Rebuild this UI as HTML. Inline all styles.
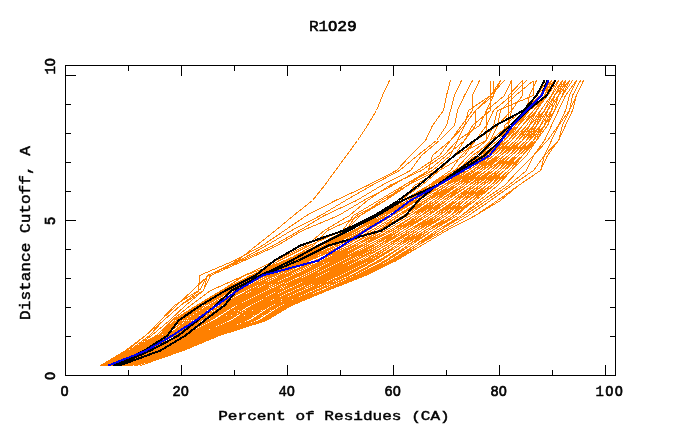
<!DOCTYPE html>
<html><head><meta charset="utf-8"><style>
html,body{margin:0;padding:0;background:#fff}
body{width:680px;height:440px;position:relative;overflow:hidden;font-family:"Liberation Mono",monospace;font-weight:bold;color:#000}
.t{position:absolute;text-align:center;white-space:pre}
.t span{display:inline-block;line-height:1;vertical-align:baseline}
svg .sd{font-family:"Liberation Sans",sans-serif;font-size:13.8px;letter-spacing:0.7px;stroke-width:0.7px}
svg text{font-family:"Liberation Mono",monospace;font-weight:normal;fill:#000;stroke:#000;stroke-width:0.45px}
</style></head><body>
<svg width="680" height="440" viewBox="0 0 680 440" style="position:absolute;left:0;top:0" shape-rendering="crispEdges">
<g><polyline points="100.5,365.5 129.5,350.5 156.5,335.5 172.5,320.5 196.5,305.5 221.5,290.5 250.5,275.5 284.5,260.5 320.5,245.5 349.5,230.5 378.5,215.5 403.5,200.5 428.5,185.5 454.5,170.5 482.5,155.5 500.5,140.5 515.5,125.5 526.5,110.5 536.5,95.5 547.5,80.5" stroke="#ff8000" stroke-width="1" fill="none"/><polyline points="100.5,365.5 131.5,350.5 158.5,335.5 174.5,320.5 198.5,305.5 223.5,290.5 250.5,275.5 286.5,260.5 320.5,245.5 349.5,230.5 374.5,215.5 403.5,200.5 428.5,185.5 457.5,170.5 486.5,155.5 500.5,140.5 515.5,125.5 526.5,110.5 536.5,95.5 547.5,80.5" stroke="#ff8000" stroke-width="1" fill="none"/><polyline points="104.5,365.5 133.5,350.5 158.5,335.5 176.5,320.5 196.5,305.5 225.5,290.5 253.5,275.5 288.5,260.5 324.5,245.5 356.5,230.5 374.5,215.5 403.5,200.5 428.5,185.5 457.5,170.5 479.5,155.5 497.5,140.5 511.5,125.5 526.5,110.5 536.5,95.5 551.5,80.5" stroke="#ff8000" stroke-width="1" fill="none"/><polyline points="102.5,365.5 133.5,350.5 160.5,335.5 178.5,320.5 199.5,305.5 225.5,290.5 255.5,275.5 288.5,260.5 324.5,245.5 356.5,230.5 381.5,215.5 407.5,200.5 432.5,185.5 461.5,170.5 482.5,155.5 500.5,140.5 518.5,125.5 526.5,110.5 540.5,95.5 551.5,80.5" stroke="#ff8000" stroke-width="1" fill="none"/><polyline points="102.5,365.5 133.5,350.5 160.5,335.5 178.5,320.5 201.5,305.5 226.5,290.5 257.5,275.5 291.5,260.5 324.5,245.5 356.5,230.5 381.5,215.5 407.5,200.5 432.5,185.5 457.5,170.5 482.5,155.5 500.5,140.5 511.5,125.5 526.5,110.5 536.5,95.5 547.5,80.5" stroke="#ff8000" stroke-width="1" fill="none"/><polyline points="104.5,365.5 134.5,350.5 163.5,335.5 180.5,320.5 203.5,305.5 228.5,290.5 259.5,275.5 289.5,260.5 327.5,245.5 360.5,230.5 385.5,215.5 407.5,200.5 432.5,185.5 461.5,170.5 486.5,155.5 504.5,140.5 515.5,125.5 529.5,110.5 540.5,95.5 554.5,80.5" stroke="#ff8000" stroke-width="1" fill="none"/><polyline points="104.5,365.5 134.5,350.5 163.5,335.5 181.5,320.5 203.5,305.5 230.5,290.5 261.5,275.5 293.5,260.5 327.5,245.5 360.5,230.5 385.5,215.5 410.5,200.5 436.5,185.5 461.5,170.5 486.5,155.5 504.5,140.5 515.5,125.5 529.5,110.5 540.5,95.5 551.5,80.5" stroke="#ff8000" stroke-width="1" fill="none"/><polyline points="106.5,365.5 136.5,350.5 163.5,335.5 181.5,320.5 205.5,305.5 232.5,290.5 264.5,275.5 297.5,260.5 331.5,245.5 356.5,230.5 385.5,215.5 410.5,200.5 432.5,185.5 461.5,170.5 482.5,155.5 508.5,140.5 518.5,125.5 529.5,110.5 540.5,95.5 547.5,80.5" stroke="#ff8000" stroke-width="1" fill="none"/><polyline points="104.5,365.5 134.5,350.5 165.5,335.5 183.5,320.5 205.5,305.5 230.5,290.5 262.5,275.5 295.5,260.5 331.5,245.5 356.5,230.5 381.5,215.5 410.5,200.5 432.5,185.5 461.5,170.5 486.5,155.5 500.5,140.5 515.5,125.5 522.5,110.5 540.5,95.5 547.5,80.5" stroke="#ff8000" stroke-width="1" fill="none"/><polyline points="104.5,365.5 136.5,350.5 163.5,335.5 185.5,320.5 208.5,305.5 235.5,290.5 266.5,275.5 299.5,260.5 331.5,245.5 360.5,230.5 385.5,215.5 410.5,200.5 432.5,185.5 457.5,170.5 486.5,155.5 504.5,140.5 515.5,125.5 529.5,110.5 540.5,95.5 551.5,80.5" stroke="#ff8000" stroke-width="1" fill="none"/><polyline points="104.5,365.5 136.5,350.5 167.5,335.5 187.5,320.5 208.5,305.5 235.5,290.5 264.5,275.5 300.5,260.5 335.5,245.5 363.5,230.5 385.5,215.5 414.5,200.5 439.5,185.5 464.5,170.5 482.5,155.5 504.5,140.5 518.5,125.5 529.5,110.5 540.5,95.5 551.5,80.5" stroke="#ff8000" stroke-width="1" fill="none"/><polyline points="104.5,365.5 138.5,350.5 167.5,335.5 189.5,320.5 208.5,305.5 235.5,290.5 266.5,275.5 300.5,260.5 335.5,245.5 363.5,230.5 389.5,215.5 414.5,200.5 439.5,185.5 464.5,170.5 486.5,155.5 500.5,140.5 515.5,125.5 529.5,110.5 544.5,95.5 551.5,80.5" stroke="#ff8000" stroke-width="1" fill="none"/><polyline points="107.5,365.5 140.5,350.5 167.5,335.5 189.5,320.5 212.5,305.5 239.5,290.5 268.5,275.5 302.5,260.5 335.5,245.5 363.5,230.5 392.5,215.5 414.5,200.5 439.5,185.5 464.5,170.5 490.5,155.5 504.5,140.5 515.5,125.5 529.5,110.5 544.5,95.5 554.5,80.5" stroke="#ff8000" stroke-width="1" fill="none"/><polyline points="106.5,365.5 138.5,350.5 167.5,335.5 189.5,320.5 210.5,305.5 239.5,290.5 270.5,275.5 302.5,260.5 338.5,245.5 363.5,230.5 392.5,215.5 417.5,200.5 439.5,185.5 461.5,170.5 486.5,155.5 504.5,140.5 518.5,125.5 529.5,110.5 544.5,95.5 551.5,80.5" stroke="#ff8000" stroke-width="1" fill="none"/><polyline points="107.5,365.5 142.5,350.5 171.5,335.5 190.5,320.5 214.5,305.5 241.5,290.5 273.5,275.5 304.5,260.5 338.5,245.5 367.5,230.5 392.5,215.5 414.5,200.5 443.5,185.5 464.5,170.5 490.5,155.5 508.5,140.5 518.5,125.5 529.5,110.5 544.5,95.5 551.5,80.5" stroke="#ff8000" stroke-width="1" fill="none"/><polyline points="106.5,365.5 140.5,350.5 169.5,335.5 190.5,320.5 214.5,305.5 243.5,290.5 273.5,275.5 306.5,260.5 338.5,245.5 367.5,230.5 392.5,215.5 414.5,200.5 443.5,185.5 464.5,170.5 490.5,155.5 508.5,140.5 518.5,125.5 533.5,110.5 544.5,95.5 554.5,80.5" stroke="#ff8000" stroke-width="1" fill="none"/><polyline points="106.5,365.5 142.5,350.5 171.5,335.5 192.5,320.5 216.5,305.5 244.5,290.5 275.5,275.5 308.5,260.5 342.5,245.5 367.5,230.5 392.5,215.5 417.5,200.5 443.5,185.5 468.5,170.5 490.5,155.5 508.5,140.5 522.5,125.5 533.5,110.5 544.5,95.5 551.5,80.5" stroke="#ff8000" stroke-width="1" fill="none"/><polyline points="107.5,365.5 142.5,350.5 171.5,335.5 194.5,320.5 217.5,305.5 244.5,290.5 279.5,275.5 309.5,260.5 342.5,245.5 371.5,230.5 396.5,215.5 421.5,200.5 446.5,185.5 464.5,170.5 490.5,155.5 508.5,140.5 522.5,125.5 533.5,110.5 544.5,95.5 554.5,80.5" stroke="#ff8000" stroke-width="1" fill="none"/><polyline points="107.5,365.5 143.5,350.5 172.5,335.5 198.5,320.5 219.5,305.5 248.5,290.5 279.5,275.5 309.5,260.5 342.5,245.5 371.5,230.5 396.5,215.5 421.5,200.5 446.5,185.5 472.5,170.5 490.5,155.5 508.5,140.5 518.5,125.5 533.5,110.5 544.5,95.5 554.5,80.5" stroke="#ff8000" stroke-width="1" fill="none"/><polyline points="107.5,365.5 143.5,350.5 174.5,335.5 196.5,320.5 221.5,305.5 248.5,290.5 279.5,275.5 309.5,260.5 345.5,245.5 371.5,230.5 396.5,215.5 425.5,200.5 446.5,185.5 475.5,170.5 493.5,155.5 508.5,140.5 522.5,125.5 536.5,110.5 544.5,95.5 554.5,80.5" stroke="#ff8000" stroke-width="1" fill="none"/><polyline points="107.5,365.5 145.5,350.5 174.5,335.5 199.5,320.5 223.5,305.5 250.5,290.5 282.5,275.5 315.5,260.5 349.5,245.5 374.5,230.5 399.5,215.5 425.5,200.5 446.5,185.5 468.5,170.5 490.5,155.5 508.5,140.5 522.5,125.5 533.5,110.5 547.5,95.5 554.5,80.5" stroke="#ff8000" stroke-width="1" fill="none"/><polyline points="107.5,365.5 145.5,350.5 174.5,335.5 199.5,320.5 225.5,305.5 250.5,290.5 282.5,275.5 315.5,260.5 349.5,245.5 378.5,230.5 399.5,215.5 425.5,200.5 446.5,185.5 472.5,170.5 493.5,155.5 508.5,140.5 522.5,125.5 533.5,110.5 544.5,95.5 551.5,80.5" stroke="#ff8000" stroke-width="1" fill="none"/><polyline points="107.5,365.5 145.5,350.5 174.5,335.5 201.5,320.5 225.5,305.5 253.5,290.5 286.5,275.5 317.5,260.5 349.5,245.5 374.5,230.5 399.5,215.5 421.5,200.5 446.5,185.5 472.5,170.5 490.5,155.5 508.5,140.5 522.5,125.5 533.5,110.5 547.5,95.5 554.5,80.5" stroke="#ff8000" stroke-width="1" fill="none"/><polyline points="109.5,365.5 147.5,350.5 178.5,335.5 201.5,320.5 225.5,305.5 253.5,290.5 284.5,275.5 317.5,260.5 349.5,245.5 374.5,230.5 399.5,215.5 425.5,200.5 450.5,185.5 472.5,170.5 493.5,155.5 508.5,140.5 522.5,125.5 536.5,110.5 547.5,95.5 554.5,80.5" stroke="#ff8000" stroke-width="1" fill="none"/><polyline points="109.5,365.5 147.5,350.5 174.5,335.5 205.5,320.5 226.5,305.5 255.5,290.5 286.5,275.5 317.5,260.5 349.5,245.5 378.5,230.5 403.5,215.5 425.5,200.5 450.5,185.5 472.5,170.5 493.5,155.5 511.5,140.5 526.5,125.5 536.5,110.5 547.5,95.5 554.5,80.5" stroke="#ff8000" stroke-width="1" fill="none"/><polyline points="111.5,365.5 149.5,350.5 180.5,335.5 205.5,320.5 228.5,305.5 257.5,290.5 286.5,275.5 318.5,260.5 353.5,245.5 381.5,230.5 407.5,215.5 428.5,200.5 454.5,185.5 475.5,170.5 497.5,155.5 511.5,140.5 526.5,125.5 536.5,110.5 544.5,95.5 554.5,80.5" stroke="#ff8000" stroke-width="1" fill="none"/><polyline points="111.5,365.5 151.5,350.5 178.5,335.5 205.5,320.5 228.5,305.5 257.5,290.5 289.5,275.5 322.5,260.5 353.5,245.5 381.5,230.5 403.5,215.5 425.5,200.5 454.5,185.5 475.5,170.5 500.5,155.5 515.5,140.5 526.5,125.5 536.5,110.5 547.5,95.5 554.5,80.5" stroke="#ff8000" stroke-width="1" fill="none"/><polyline points="111.5,365.5 151.5,350.5 178.5,335.5 207.5,320.5 230.5,305.5 259.5,290.5 293.5,275.5 324.5,260.5 353.5,245.5 381.5,230.5 403.5,215.5 428.5,200.5 450.5,185.5 475.5,170.5 497.5,155.5 511.5,140.5 522.5,125.5 536.5,110.5 544.5,95.5 554.5,80.5" stroke="#ff8000" stroke-width="1" fill="none"/><polyline points="109.5,365.5 151.5,350.5 178.5,335.5 207.5,320.5 232.5,305.5 261.5,290.5 293.5,275.5 326.5,260.5 356.5,245.5 381.5,230.5 407.5,215.5 428.5,200.5 454.5,185.5 479.5,170.5 497.5,155.5 511.5,140.5 522.5,125.5 533.5,110.5 547.5,95.5 558.5,80.5" stroke="#ff8000" stroke-width="1" fill="none"/><polyline points="113.5,365.5 151.5,350.5 181.5,335.5 210.5,320.5 234.5,305.5 264.5,290.5 295.5,275.5 326.5,260.5 356.5,245.5 385.5,230.5 410.5,215.5 432.5,200.5 454.5,185.5 475.5,170.5 497.5,155.5 515.5,140.5 526.5,125.5 536.5,110.5 547.5,95.5 554.5,80.5" stroke="#ff8000" stroke-width="1" fill="none"/><polyline points="113.5,365.5 153.5,350.5 181.5,335.5 208.5,320.5 234.5,305.5 264.5,290.5 295.5,275.5 329.5,260.5 356.5,245.5 385.5,230.5 410.5,215.5 432.5,200.5 454.5,185.5 475.5,170.5 497.5,155.5 515.5,140.5 526.5,125.5 536.5,110.5 547.5,95.5 558.5,80.5" stroke="#ff8000" stroke-width="1" fill="none"/><polyline points="111.5,365.5 153.5,350.5 181.5,335.5 210.5,320.5 234.5,305.5 264.5,290.5 297.5,275.5 329.5,260.5 360.5,245.5 385.5,230.5 410.5,215.5 432.5,200.5 454.5,185.5 479.5,170.5 497.5,155.5 515.5,140.5 526.5,125.5 536.5,110.5 547.5,95.5 554.5,80.5" stroke="#ff8000" stroke-width="1" fill="none"/><polyline points="115.5,365.5 154.5,350.5 183.5,335.5 214.5,320.5 237.5,305.5 268.5,290.5 299.5,275.5 331.5,260.5 360.5,245.5 385.5,230.5 410.5,215.5 436.5,200.5 457.5,185.5 479.5,170.5 500.5,155.5 515.5,140.5 526.5,125.5 536.5,110.5 544.5,95.5 554.5,80.5" stroke="#ff8000" stroke-width="1" fill="none"/><polyline points="113.5,365.5 156.5,350.5 185.5,335.5 214.5,320.5 239.5,305.5 270.5,290.5 299.5,275.5 331.5,260.5 363.5,245.5 389.5,230.5 414.5,215.5 436.5,200.5 454.5,185.5 479.5,170.5 500.5,155.5 515.5,140.5 529.5,125.5 536.5,110.5 547.5,95.5 558.5,80.5" stroke="#ff8000" stroke-width="1" fill="none"/><polyline points="113.5,365.5 154.5,350.5 185.5,335.5 216.5,320.5 239.5,305.5 268.5,290.5 300.5,275.5 331.5,260.5 360.5,245.5 389.5,230.5 414.5,215.5 436.5,200.5 454.5,185.5 479.5,170.5 497.5,155.5 511.5,140.5 526.5,125.5 536.5,110.5 547.5,95.5 554.5,80.5" stroke="#ff8000" stroke-width="1" fill="none"/><polyline points="115.5,365.5 154.5,350.5 187.5,335.5 217.5,320.5 239.5,305.5 271.5,290.5 304.5,275.5 333.5,260.5 363.5,245.5 389.5,230.5 414.5,215.5 432.5,200.5 457.5,185.5 482.5,170.5 500.5,155.5 518.5,140.5 529.5,125.5 544.5,110.5 551.5,95.5 562.5,80.5" stroke="#ff8000" stroke-width="1" fill="none"/><polyline points="113.5,365.5 154.5,350.5 187.5,335.5 217.5,320.5 241.5,305.5 271.5,290.5 304.5,275.5 335.5,260.5 363.5,245.5 392.5,230.5 414.5,215.5 439.5,200.5 461.5,185.5 479.5,170.5 500.5,155.5 518.5,140.5 529.5,125.5 540.5,110.5 551.5,95.5 558.5,80.5" stroke="#ff8000" stroke-width="1" fill="none"/><polyline points="115.5,365.5 156.5,350.5 189.5,335.5 221.5,320.5 244.5,305.5 275.5,290.5 304.5,275.5 336.5,260.5 363.5,245.5 392.5,230.5 421.5,215.5 439.5,200.5 461.5,185.5 482.5,170.5 500.5,155.5 518.5,140.5 529.5,125.5 544.5,110.5 551.5,95.5 558.5,80.5" stroke="#ff8000" stroke-width="1" fill="none"/><polyline points="115.5,365.5 158.5,350.5 189.5,335.5 219.5,320.5 243.5,305.5 273.5,290.5 308.5,275.5 338.5,260.5 367.5,245.5 396.5,230.5 417.5,215.5 439.5,200.5 461.5,185.5 482.5,170.5 500.5,155.5 518.5,140.5 529.5,125.5 540.5,110.5 551.5,95.5 558.5,80.5" stroke="#ff8000" stroke-width="1" fill="none"/><polyline points="116.5,365.5 160.5,350.5 190.5,335.5 223.5,320.5 244.5,305.5 277.5,290.5 311.5,275.5 340.5,260.5 371.5,245.5 396.5,230.5 417.5,215.5 439.5,200.5 464.5,185.5 482.5,170.5 504.5,155.5 518.5,140.5 529.5,125.5 540.5,110.5 551.5,95.5 562.5,80.5" stroke="#ff8000" stroke-width="1" fill="none"/><polyline points="115.5,365.5 160.5,350.5 190.5,335.5 225.5,320.5 246.5,305.5 277.5,290.5 309.5,275.5 340.5,260.5 367.5,245.5 396.5,230.5 421.5,215.5 443.5,200.5 464.5,185.5 486.5,170.5 500.5,155.5 522.5,140.5 533.5,125.5 544.5,110.5 551.5,95.5 562.5,80.5" stroke="#ff8000" stroke-width="1" fill="none"/><polyline points="116.5,365.5 160.5,350.5 190.5,335.5 225.5,320.5 248.5,305.5 280.5,290.5 313.5,275.5 344.5,260.5 371.5,245.5 399.5,230.5 421.5,215.5 443.5,200.5 464.5,185.5 486.5,170.5 508.5,155.5 522.5,140.5 533.5,125.5 540.5,110.5 551.5,95.5 558.5,80.5" stroke="#ff8000" stroke-width="1" fill="none"/><polyline points="116.5,365.5 162.5,350.5 192.5,335.5 225.5,320.5 248.5,305.5 280.5,290.5 313.5,275.5 344.5,260.5 371.5,245.5 399.5,230.5 421.5,215.5 443.5,200.5 468.5,185.5 490.5,170.5 504.5,155.5 522.5,140.5 529.5,125.5 540.5,110.5 551.5,95.5 558.5,80.5" stroke="#ff8000" stroke-width="1" fill="none"/><polyline points="116.5,365.5 162.5,350.5 192.5,335.5 226.5,320.5 252.5,305.5 282.5,290.5 315.5,275.5 344.5,260.5 374.5,245.5 399.5,230.5 421.5,215.5 446.5,200.5 468.5,185.5 490.5,170.5 504.5,155.5 518.5,140.5 533.5,125.5 540.5,110.5 551.5,95.5 562.5,80.5" stroke="#ff8000" stroke-width="1" fill="none"/><polyline points="116.5,365.5 162.5,350.5 194.5,335.5 228.5,320.5 252.5,305.5 282.5,290.5 315.5,275.5 347.5,260.5 374.5,245.5 399.5,230.5 425.5,215.5 446.5,200.5 468.5,185.5 490.5,170.5 508.5,155.5 526.5,140.5 533.5,125.5 540.5,110.5 551.5,95.5 562.5,80.5" stroke="#ff8000" stroke-width="1" fill="none"/><polyline points="118.5,365.5 165.5,350.5 196.5,335.5 232.5,320.5 253.5,305.5 286.5,290.5 317.5,275.5 347.5,260.5 378.5,245.5 399.5,230.5 425.5,215.5 446.5,200.5 468.5,185.5 490.5,170.5 508.5,155.5 526.5,140.5 533.5,125.5 544.5,110.5 554.5,95.5 562.5,80.5" stroke="#ff8000" stroke-width="1" fill="none"/><polyline points="118.5,365.5 163.5,350.5 196.5,335.5 234.5,320.5 257.5,305.5 288.5,290.5 318.5,275.5 351.5,260.5 378.5,245.5 399.5,230.5 425.5,215.5 446.5,200.5 468.5,185.5 490.5,170.5 508.5,155.5 522.5,140.5 533.5,125.5 544.5,110.5 554.5,95.5 565.5,80.5" stroke="#ff8000" stroke-width="1" fill="none"/><polyline points="118.5,365.5 163.5,350.5 196.5,335.5 232.5,320.5 255.5,305.5 288.5,290.5 322.5,275.5 351.5,260.5 378.5,245.5 403.5,230.5 425.5,215.5 446.5,200.5 468.5,185.5 486.5,170.5 500.5,155.5 522.5,140.5 536.5,125.5 540.5,110.5 551.5,95.5 562.5,80.5" stroke="#ff8000" stroke-width="1" fill="none"/><polyline points="120.5,365.5 165.5,350.5 196.5,335.5 232.5,320.5 257.5,305.5 289.5,290.5 324.5,275.5 354.5,260.5 381.5,245.5 403.5,230.5 428.5,215.5 446.5,200.5 468.5,185.5 493.5,170.5 511.5,155.5 526.5,140.5 533.5,125.5 544.5,110.5 551.5,95.5 562.5,80.5" stroke="#ff8000" stroke-width="1" fill="none"/><polyline points="118.5,365.5 165.5,350.5 198.5,335.5 235.5,320.5 259.5,305.5 291.5,290.5 326.5,275.5 354.5,260.5 381.5,245.5 403.5,230.5 428.5,215.5 450.5,200.5 472.5,185.5 493.5,170.5 508.5,155.5 522.5,140.5 536.5,125.5 547.5,110.5 554.5,95.5 565.5,80.5" stroke="#ff8000" stroke-width="1" fill="none"/><polyline points="120.5,365.5 167.5,350.5 199.5,335.5 237.5,320.5 262.5,305.5 295.5,290.5 327.5,275.5 356.5,260.5 381.5,245.5 407.5,230.5 432.5,215.5 454.5,200.5 475.5,185.5 493.5,170.5 508.5,155.5 526.5,140.5 536.5,125.5 544.5,110.5 554.5,95.5 565.5,80.5" stroke="#ff8000" stroke-width="1" fill="none"/><polyline points="120.5,365.5 167.5,350.5 199.5,335.5 237.5,320.5 261.5,305.5 295.5,290.5 329.5,275.5 356.5,260.5 385.5,245.5 410.5,230.5 432.5,215.5 457.5,200.5 475.5,185.5 493.5,170.5 511.5,155.5 526.5,140.5 536.5,125.5 544.5,110.5 554.5,95.5 562.5,80.5" stroke="#ff8000" stroke-width="1" fill="none"/><polyline points="120.5,365.5 169.5,350.5 201.5,335.5 239.5,320.5 262.5,305.5 297.5,290.5 329.5,275.5 360.5,260.5 385.5,245.5 410.5,230.5 436.5,215.5 454.5,200.5 472.5,185.5 490.5,170.5 508.5,155.5 526.5,140.5 536.5,125.5 547.5,110.5 554.5,95.5 562.5,80.5" stroke="#ff8000" stroke-width="1" fill="none"/><polyline points="122.5,365.5 171.5,350.5 201.5,335.5 239.5,320.5 264.5,305.5 297.5,290.5 329.5,275.5 360.5,260.5 385.5,245.5 414.5,230.5 436.5,215.5 457.5,200.5 475.5,185.5 493.5,170.5 511.5,155.5 529.5,140.5 540.5,125.5 551.5,110.5 554.5,95.5 565.5,80.5" stroke="#ff8000" stroke-width="1" fill="none"/><polyline points="120.5,365.5 169.5,350.5 203.5,335.5 241.5,320.5 264.5,305.5 300.5,290.5 331.5,275.5 360.5,260.5 385.5,245.5 410.5,230.5 432.5,215.5 454.5,200.5 475.5,185.5 493.5,170.5 508.5,155.5 526.5,140.5 536.5,125.5 547.5,110.5 558.5,95.5 565.5,80.5" stroke="#ff8000" stroke-width="1" fill="none"/><polyline points="120.5,365.5 171.5,350.5 203.5,335.5 241.5,320.5 266.5,305.5 300.5,290.5 333.5,275.5 363.5,260.5 389.5,245.5 410.5,230.5 436.5,215.5 454.5,200.5 472.5,185.5 493.5,170.5 511.5,155.5 529.5,140.5 540.5,125.5 547.5,110.5 554.5,95.5 565.5,80.5" stroke="#ff8000" stroke-width="1" fill="none"/><polyline points="122.5,365.5 171.5,350.5 205.5,335.5 243.5,320.5 266.5,305.5 300.5,290.5 335.5,275.5 363.5,260.5 389.5,245.5 414.5,230.5 436.5,215.5 457.5,200.5 479.5,185.5 497.5,170.5 511.5,155.5 526.5,140.5 540.5,125.5 547.5,110.5 554.5,95.5 565.5,80.5" stroke="#ff8000" stroke-width="1" fill="none"/><polyline points="122.5,365.5 171.5,350.5 205.5,335.5 244.5,320.5 268.5,305.5 304.5,290.5 336.5,275.5 365.5,260.5 389.5,245.5 414.5,230.5 439.5,215.5 457.5,200.5 475.5,185.5 497.5,170.5 515.5,155.5 529.5,140.5 540.5,125.5 547.5,110.5 554.5,95.5 565.5,80.5" stroke="#ff8000" stroke-width="1" fill="none"/><polyline points="122.5,365.5 172.5,350.5 207.5,335.5 246.5,320.5 270.5,305.5 304.5,290.5 336.5,275.5 367.5,260.5 392.5,245.5 417.5,230.5 439.5,215.5 461.5,200.5 479.5,185.5 500.5,170.5 515.5,155.5 529.5,140.5 536.5,125.5 547.5,110.5 558.5,95.5 565.5,80.5" stroke="#ff8000" stroke-width="1" fill="none"/><polyline points="124.5,365.5 172.5,350.5 207.5,335.5 246.5,320.5 270.5,305.5 306.5,290.5 338.5,275.5 369.5,260.5 392.5,245.5 417.5,230.5 443.5,215.5 461.5,200.5 482.5,185.5 500.5,170.5 515.5,155.5 533.5,140.5 540.5,125.5 551.5,110.5 558.5,95.5 565.5,80.5" stroke="#ff8000" stroke-width="1" fill="none"/><polyline points="124.5,365.5 174.5,350.5 208.5,335.5 250.5,320.5 273.5,305.5 308.5,290.5 342.5,275.5 371.5,260.5 396.5,245.5 421.5,230.5 443.5,215.5 461.5,200.5 482.5,185.5 500.5,170.5 518.5,155.5 533.5,140.5 540.5,125.5 551.5,110.5 558.5,95.5 562.5,80.5" stroke="#ff8000" stroke-width="1" fill="none"/><polyline points="122.5,365.5 174.5,350.5 208.5,335.5 250.5,320.5 273.5,305.5 309.5,290.5 342.5,275.5 371.5,260.5 396.5,245.5 417.5,230.5 443.5,215.5 461.5,200.5 482.5,185.5 500.5,170.5 515.5,155.5 533.5,140.5 540.5,125.5 547.5,110.5 558.5,95.5 565.5,80.5" stroke="#ff8000" stroke-width="1" fill="none"/><polyline points="124.5,365.5 174.5,350.5 208.5,335.5 252.5,320.5 275.5,305.5 309.5,290.5 342.5,275.5 372.5,260.5 396.5,245.5 421.5,230.5 443.5,215.5 464.5,200.5 482.5,185.5 500.5,170.5 515.5,155.5 529.5,140.5 544.5,125.5 547.5,110.5 554.5,95.5 569.5,80.5" stroke="#ff8000" stroke-width="1" fill="none"/><polyline points="124.5,365.5 178.5,350.5 210.5,335.5 250.5,320.5 277.5,305.5 311.5,290.5 345.5,275.5 374.5,260.5 396.5,245.5 421.5,230.5 446.5,215.5 464.5,200.5 482.5,185.5 504.5,170.5 518.5,155.5 533.5,140.5 540.5,125.5 551.5,110.5 558.5,95.5 569.5,80.5" stroke="#ff8000" stroke-width="1" fill="none"/><polyline points="125.5,365.5 178.5,350.5 210.5,335.5 253.5,320.5 277.5,305.5 311.5,290.5 344.5,275.5 374.5,260.5 399.5,245.5 421.5,230.5 446.5,215.5 464.5,200.5 486.5,185.5 504.5,170.5 515.5,155.5 533.5,140.5 540.5,125.5 551.5,110.5 558.5,95.5 569.5,80.5" stroke="#ff8000" stroke-width="1" fill="none"/><polyline points="125.5,365.5 176.5,350.5 210.5,335.5 255.5,320.5 279.5,305.5 315.5,290.5 347.5,275.5 374.5,260.5 399.5,245.5 425.5,230.5 450.5,215.5 464.5,200.5 486.5,185.5 500.5,170.5 515.5,155.5 533.5,140.5 544.5,125.5 554.5,110.5 562.5,95.5 565.5,80.5" stroke="#ff8000" stroke-width="1" fill="none"/><polyline points="125.5,365.5 178.5,350.5 212.5,335.5 255.5,320.5 279.5,305.5 317.5,290.5 351.5,275.5 380.5,260.5 403.5,245.5 428.5,230.5 450.5,215.5 468.5,200.5 486.5,185.5 504.5,170.5 518.5,155.5 536.5,140.5 544.5,125.5 551.5,110.5 558.5,95.5 565.5,80.5" stroke="#ff8000" stroke-width="1" fill="none"/><polyline points="125.5,365.5 180.5,350.5 212.5,335.5 259.5,320.5 282.5,305.5 318.5,290.5 351.5,275.5 378.5,260.5 403.5,245.5 425.5,230.5 450.5,215.5 472.5,200.5 486.5,185.5 504.5,170.5 518.5,155.5 536.5,140.5 544.5,125.5 551.5,110.5 558.5,95.5 569.5,80.5" stroke="#ff8000" stroke-width="1" fill="none"/><polyline points="125.5,365.5 180.5,350.5 214.5,335.5 259.5,320.5 282.5,305.5 318.5,290.5 353.5,275.5 380.5,260.5 403.5,245.5 425.5,230.5 450.5,215.5 468.5,200.5 490.5,185.5 504.5,170.5 522.5,155.5 536.5,140.5 540.5,125.5 551.5,110.5 558.5,95.5 569.5,80.5" stroke="#ff8000" stroke-width="1" fill="none"/><polyline points="125.5,365.5 180.5,350.5 214.5,335.5 259.5,320.5 284.5,305.5 318.5,290.5 353.5,275.5 381.5,260.5 403.5,245.5 425.5,230.5 450.5,215.5 468.5,200.5 490.5,185.5 508.5,170.5 522.5,155.5 533.5,140.5 544.5,125.5 551.5,110.5 558.5,95.5 565.5,80.5" stroke="#ff8000" stroke-width="1" fill="none"/><polyline points="127.5,365.5 183.5,350.5 216.5,335.5 261.5,320.5 284.5,305.5 322.5,290.5 356.5,275.5 385.5,260.5 407.5,245.5 428.5,230.5 454.5,215.5 472.5,200.5 490.5,185.5 504.5,170.5 522.5,155.5 536.5,140.5 547.5,125.5 554.5,110.5 558.5,95.5 569.5,80.5" stroke="#ff8000" stroke-width="1" fill="none"/><polyline points="127.5,365.5 180.5,350.5 216.5,335.5 262.5,320.5 286.5,305.5 322.5,290.5 356.5,275.5 385.5,260.5 407.5,245.5 428.5,230.5 454.5,215.5 472.5,200.5 490.5,185.5 508.5,170.5 522.5,155.5 536.5,140.5 544.5,125.5 551.5,110.5 558.5,95.5 569.5,80.5" stroke="#ff8000" stroke-width="1" fill="none"/><polyline points="127.5,365.5 183.5,350.5 217.5,335.5 264.5,320.5 288.5,305.5 324.5,290.5 358.5,275.5 387.5,260.5 410.5,245.5 432.5,230.5 454.5,215.5 475.5,200.5 493.5,185.5 511.5,170.5 526.5,155.5 536.5,140.5 547.5,125.5 551.5,110.5 558.5,95.5 569.5,80.5" stroke="#ff8000" stroke-width="1" fill="none"/><polyline points="127.5,365.5 183.5,350.5 217.5,335.5 262.5,320.5 288.5,305.5 327.5,290.5 362.5,275.5 387.5,260.5 407.5,245.5 432.5,230.5 454.5,215.5 472.5,200.5 493.5,185.5 508.5,170.5 522.5,155.5 536.5,140.5 544.5,125.5 554.5,110.5 562.5,95.5 569.5,80.5" stroke="#ff8000" stroke-width="1" fill="none"/><polyline points="127.5,365.5 183.5,350.5 219.5,335.5 266.5,320.5 291.5,305.5 326.5,290.5 360.5,275.5 387.5,260.5 410.5,245.5 432.5,230.5 457.5,215.5 472.5,200.5 493.5,185.5 511.5,170.5 522.5,155.5 536.5,140.5 547.5,125.5 554.5,110.5 562.5,95.5 569.5,80.5" stroke="#ff8000" stroke-width="1" fill="none"/><polyline points="129.5,365.5 183.5,350.5 219.5,335.5 264.5,320.5 289.5,305.5 327.5,290.5 362.5,275.5 390.5,260.5 414.5,245.5 436.5,230.5 461.5,215.5 479.5,200.5 497.5,185.5 511.5,170.5 526.5,155.5 536.5,140.5 547.5,125.5 554.5,110.5 562.5,95.5 572.5,80.5" stroke="#ff8000" stroke-width="1" fill="none"/><polyline points="131.5,365.5 183.5,350.5 219.5,335.5 266.5,320.5 291.5,305.5 327.5,290.5 363.5,275.5 392.5,260.5 414.5,245.5 439.5,230.5 461.5,215.5 482.5,200.5 504.5,185.5 518.5,170.5 533.5,155.5 544.5,140.5 551.5,125.5 558.5,110.5 565.5,95.5 576.5,80.5" stroke="#ff8000" stroke-width="1" fill="none"/><polyline points="134.5,365.5 183.5,350.5 219.5,335.5 266.5,320.5 291.5,305.5 327.5,290.5 363.5,275.5 392.5,260.5 417.5,245.5 439.5,230.5 464.5,215.5 486.5,200.5 508.5,185.5 526.5,170.5 533.5,155.5 547.5,140.5 558.5,125.5 565.5,110.5 569.5,95.5 576.5,80.5" stroke="#ff8000" stroke-width="1" fill="none"/><polyline points="136.5,365.5 183.5,350.5 219.5,335.5 266.5,320.5 291.5,305.5 327.5,290.5 365.5,275.5 394.5,260.5 417.5,245.5 443.5,230.5 468.5,215.5 490.5,200.5 511.5,185.5 533.5,170.5 544.5,155.5 551.5,140.5 558.5,125.5 569.5,110.5 572.5,95.5 580.5,80.5" stroke="#ff8000" stroke-width="1" fill="none"/><polyline points="140.5,365.5 183.5,350.5 219.5,335.5 266.5,320.5 291.5,305.5 327.5,290.5 365.5,275.5 394.5,260.5 421.5,245.5 446.5,230.5 475.5,215.5 497.5,200.5 518.5,185.5 540.5,170.5 544.5,155.5 558.5,140.5 562.5,125.5 569.5,110.5 576.5,95.5 583.5,80.5" stroke="#ff8000" stroke-width="1" fill="none"/><polyline points="102.5,365.5 133.5,350.5 160.5,335.5 176.5,320.5 196.5,305.5 223.5,290.5 250.5,275.5 291.5,260.5 327.5,245.5 353.5,230.5 389.5,215.5 410.5,200.5 428.5,185.5 457.5,170.5 482.5,155.5 500.5,140.5 518.5,125.5 529.5,110.5 547.5,95.5 547.5,80.5" stroke="#ff8000" stroke-width="1" fill="none"/><polyline points="102.5,365.5 131.5,350.5 160.5,335.5 176.5,320.5 199.5,305.5 226.5,290.5 257.5,275.5 291.5,260.5 324.5,245.5 356.5,230.5 385.5,215.5 407.5,200.5 428.5,185.5 464.5,170.5 482.5,155.5 500.5,140.5 515.5,125.5 526.5,110.5 529.5,95.5 536.5,80.5" stroke="#ff8000" stroke-width="1" fill="none"/><polyline points="102.5,365.5 133.5,350.5 158.5,335.5 174.5,320.5 196.5,305.5 223.5,290.5 250.5,275.5 286.5,260.5 327.5,245.5 349.5,230.5 378.5,215.5 403.5,200.5 436.5,185.5 457.5,170.5 479.5,155.5 504.5,140.5 504.5,125.5 522.5,110.5 536.5,95.5 547.5,80.5" stroke="#ff8000" stroke-width="1" fill="none"/><polyline points="104.5,365.5 131.5,350.5 158.5,335.5 174.5,320.5 201.5,305.5 223.5,290.5 253.5,275.5 288.5,260.5 320.5,245.5 356.5,230.5 378.5,215.5 414.5,200.5 428.5,185.5 468.5,170.5 479.5,155.5 490.5,140.5 508.5,125.5 511.5,110.5 522.5,95.5 522.5,80.5" stroke="#ff8000" stroke-width="1" fill="none"/><polyline points="102.5,365.5 131.5,350.5 158.5,335.5 174.5,320.5 201.5,305.5 221.5,290.5 252.5,275.5 289.5,260.5 320.5,245.5 353.5,230.5 378.5,215.5 403.5,200.5 432.5,185.5 457.5,170.5 472.5,155.5 493.5,140.5 508.5,125.5 508.5,110.5 508.5,95.5 522.5,80.5" stroke="#ff8000" stroke-width="1" fill="none"/><polyline points="104.5,365.5 133.5,350.5 160.5,335.5 176.5,320.5 198.5,305.5 223.5,290.5 250.5,275.5 288.5,260.5 327.5,245.5 356.5,230.5 381.5,215.5 403.5,200.5 432.5,185.5 454.5,170.5 468.5,155.5 486.5,140.5 493.5,125.5 497.5,110.5 533.5,95.5 533.5,80.5" stroke="#ff8000" stroke-width="1" fill="none"/><polyline points="102.5,365.5 131.5,350.5 158.5,335.5 176.5,320.5 199.5,305.5 232.5,290.5 250.5,275.5 286.5,260.5 324.5,245.5 353.5,230.5 381.5,215.5 417.5,200.5 432.5,185.5 457.5,170.5 475.5,155.5 490.5,140.5 497.5,125.5 500.5,110.5 515.5,95.5 533.5,80.5" stroke="#ff8000" stroke-width="1" fill="none"/><polyline points="102.5,365.5 133.5,350.5 158.5,335.5 178.5,320.5 196.5,305.5 225.5,290.5 252.5,275.5 288.5,260.5 331.5,245.5 353.5,230.5 385.5,215.5 403.5,200.5 428.5,185.5 450.5,170.5 461.5,155.5 475.5,140.5 497.5,125.5 511.5,110.5 511.5,95.5 526.5,80.5" stroke="#ff8000" stroke-width="1" fill="none"/><polyline points="102.5,365.5 133.5,350.5 158.5,335.5 174.5,320.5 198.5,305.5 221.5,290.5 250.5,275.5 286.5,260.5 324.5,245.5 349.5,230.5 378.5,215.5 403.5,200.5 414.5,185.5 439.5,170.5 464.5,155.5 475.5,140.5 486.5,125.5 493.5,110.5 511.5,95.5 511.5,80.5" stroke="#ff8000" stroke-width="1" fill="none"/><polyline points="102.5,365.5 131.5,350.5 162.5,335.5 176.5,320.5 196.5,305.5 221.5,290.5 253.5,275.5 291.5,260.5 320.5,245.5 356.5,230.5 374.5,215.5 399.5,200.5 421.5,185.5 439.5,170.5 454.5,155.5 486.5,140.5 486.5,125.5 486.5,110.5 504.5,95.5 511.5,80.5" stroke="#ff8000" stroke-width="1" fill="none"/><polyline points="102.5,365.5 131.5,350.5 162.5,335.5 178.5,320.5 196.5,305.5 223.5,290.5 253.5,275.5 291.5,260.5 324.5,245.5 345.5,230.5 356.5,215.5 385.5,200.5 407.5,185.5 436.5,170.5 454.5,155.5 464.5,140.5 472.5,125.5 490.5,110.5 490.5,95.5 504.5,80.5" stroke="#ff8000" stroke-width="1" fill="none"/><polyline points="102.5,365.5 131.5,350.5 162.5,335.5 176.5,320.5 199.5,305.5 223.5,290.5 253.5,275.5 286.5,260.5 317.5,245.5 345.5,230.5 360.5,215.5 385.5,200.5 403.5,185.5 432.5,170.5 450.5,155.5 457.5,140.5 479.5,125.5 486.5,110.5 493.5,95.5 500.5,80.5" stroke="#ff8000" stroke-width="1" fill="none"/><polyline points="104.5,365.5 133.5,350.5 160.5,335.5 174.5,320.5 196.5,305.5 221.5,290.5 253.5,275.5 279.5,260.5 309.5,245.5 342.5,230.5 353.5,215.5 378.5,200.5 403.5,185.5 428.5,170.5 446.5,155.5 464.5,140.5 475.5,125.5 475.5,110.5 490.5,95.5 490.5,80.5" stroke="#ff8000" stroke-width="1" fill="none"/><polyline points="102.5,365.5 133.5,350.5 163.5,335.5 178.5,320.5 198.5,305.5 221.5,290.5 244.5,275.5 286.5,260.5 313.5,245.5 327.5,230.5 360.5,215.5 381.5,200.5 407.5,185.5 428.5,170.5 432.5,155.5 450.5,140.5 464.5,125.5 475.5,110.5 493.5,95.5 493.5,80.5" stroke="#ff8000" stroke-width="1" fill="none"/><polyline points="100.5,365.5 129.5,350.5 156.5,335.5 171.5,320.5 190.5,305.5 210.5,290.5 244.5,275.5 275.5,260.5 306.5,245.5 324.5,230.5 349.5,215.5 367.5,200.5 389.5,185.5 421.5,170.5 443.5,155.5 457.5,140.5 464.5,125.5 468.5,110.5 490.5,95.5 500.5,80.5" stroke="#ff8000" stroke-width="1" fill="none"/><polyline points="100.5,365.5 125.5,350.5 145.5,335.5 160.5,320.5 174.5,305.5 198.5,290.5 199.5,275.5 234.5,260.5 262.5,245.5 284.5,230.5 306.5,215.5 335.5,200.5 367.5,185.5 396.5,170.5 410.5,155.5 425.5,140.5 432.5,125.5 443.5,110.5 446.5,95.5 450.5,80.5" stroke="#ff8000" stroke-width="1" fill="none"/><polyline points="100.5,365.5 127.5,350.5 145.5,335.5 163.5,320.5 180.5,305.5 199.5,290.5 207.5,275.5 239.5,260.5 266.5,245.5 291.5,230.5 320.5,215.5 345.5,200.5 371.5,185.5 399.5,170.5 417.5,155.5 436.5,140.5 446.5,125.5 450.5,110.5 454.5,95.5 461.5,80.5" stroke="#ff8000" stroke-width="1" fill="none"/><polyline points="104.5,365.5 129.5,350.5 149.5,335.5 163.5,320.5 180.5,305.5 203.5,290.5 207.5,275.5 241.5,260.5 273.5,245.5 299.5,230.5 324.5,215.5 356.5,200.5 381.5,185.5 410.5,170.5 421.5,155.5 439.5,140.5 454.5,125.5 457.5,110.5 464.5,95.5 472.5,80.5" stroke="#ff8000" stroke-width="1" fill="none"/><polyline points="104.5,365.5 131.5,350.5 151.5,335.5 169.5,320.5 185.5,305.5 203.5,290.5 210.5,275.5 244.5,260.5 277.5,245.5 302.5,230.5 338.5,215.5 363.5,200.5 392.5,185.5 417.5,170.5 439.5,155.5 450.5,140.5 461.5,125.5 472.5,110.5 472.5,95.5 479.5,80.5" stroke="#ff8000" stroke-width="1" fill="none"/><polyline points="100.5,365.5 126.5,350.5 145.5,335.5 160.5,320.5 176.5,305.5 192.5,290.5 208.5,275.5 237.5,260.5 256.5,245.5 275.5,230.5 293.5,215.5 312.5,200.5 324.5,185.5 335.5,170.5 346.5,155.5 357.5,140.5 367.5,125.5 376.5,110.5 382.5,95.5 389.5,80.5" stroke="#ff8000" stroke-width="1" fill="none"/><polyline points="140.5,365.5 183.5,350.5 219.5,335.5 266.5,320.5 291.5,305.5 327.5,290.5 365.5,275.5 396.5,260.5 421.5,245.5 446.5,230.5 475.5,215.5 500.5,200.5 518.5,185.5 540.5,170.5 547.5,155.5 558.5,140.5 565.5,125.5 572.5,110.5 576.5,95.5 583.5,80.5" stroke="#ff8000" stroke-width="1" fill="none"/><polyline points="113.5,365.5 144.5,350.5 167.5,335.5 178.5,320.5 200.5,305.5 225.5,290.5 255.5,275.5 274.5,260.5 300.5,245.5 343.5,230.5 374.5,215.5 398.5,200.5 418.5,185.5 436.5,170.5 454.5,155.5 474.5,140.5 495.5,125.5 523.5,110.5 536.5,95.5 544.5,80.5" stroke="#000" stroke-width="2" fill="none"/><polyline points="116.5,365.5 150.5,350.5 178.5,335.5 197.5,320.5 215.5,305.5 231.5,290.5 260.5,275.5 291.5,260.5 318.5,245.5 348.5,230.5 377.5,215.5 402.5,200.5 436.5,185.5 457.5,170.5 478.5,155.5 493.5,140.5 510.5,125.5 525.5,110.5 541.5,95.5 547.5,80.5" stroke="#000" stroke-width="2" fill="none"/><polyline points="119.5,365.5 160.5,350.5 185.5,335.5 204.5,320.5 224.5,305.5 236.5,290.5 262.5,275.5 298.5,260.5 328.5,245.5 381.5,230.5 405.5,215.5 418.5,200.5 436.5,185.5 460.5,170.5 484.5,155.5 500.5,140.5 512.5,125.5 527.5,110.5 546.5,95.5 555.5,80.5" stroke="#000" stroke-width="2" fill="none"/><polyline points="108.5,365.5 146.5,350.5 172.5,335.5 195.5,320.5 216.5,305.5 237.5,290.5 262.5,275.5 318.5,260.5 342.5,245.5 365.5,230.5 390.5,215.5 410.5,200.5 437.5,185.5 463.5,170.5 489.5,155.5 501.5,140.5 512.5,125.5 526.5,110.5 541.5,95.5 548.5,80.5" stroke="#0000f0" stroke-width="2" fill="none"/></g>
<g><rect x="65.5" y="65.5" width="550" height="310" fill="none" stroke="#000" stroke-width="1"/><line x1="128.5" y1="375" x2="128.5" y2="370" stroke="#000"/><line x1="128.5" y1="66" x2="128.5" y2="71" stroke="#000"/><line x1="181.5" y1="375" x2="181.5" y2="365" stroke="#000"/><line x1="181.5" y1="66" x2="181.5" y2="76" stroke="#000"/><line x1="234.5" y1="375" x2="234.5" y2="370" stroke="#000"/><line x1="234.5" y1="66" x2="234.5" y2="71" stroke="#000"/><line x1="287.5" y1="375" x2="287.5" y2="365" stroke="#000"/><line x1="287.5" y1="66" x2="287.5" y2="76" stroke="#000"/><line x1="340.5" y1="375" x2="340.5" y2="370" stroke="#000"/><line x1="340.5" y1="66" x2="340.5" y2="71" stroke="#000"/><line x1="393.5" y1="375" x2="393.5" y2="365" stroke="#000"/><line x1="393.5" y1="66" x2="393.5" y2="76" stroke="#000"/><line x1="446.5" y1="375" x2="446.5" y2="370" stroke="#000"/><line x1="446.5" y1="66" x2="446.5" y2="71" stroke="#000"/><line x1="499.5" y1="375" x2="499.5" y2="365" stroke="#000"/><line x1="499.5" y1="66" x2="499.5" y2="76" stroke="#000"/><line x1="552.5" y1="375" x2="552.5" y2="370" stroke="#000"/><line x1="552.5" y1="66" x2="552.5" y2="71" stroke="#000"/><line x1="605.5" y1="375" x2="605.5" y2="365" stroke="#000"/><line x1="605.5" y1="66" x2="605.5" y2="76" stroke="#000"/><line x1="66" y1="75.5" x2="76" y2="75.5" stroke="#000"/><line x1="615" y1="75.5" x2="605" y2="75.5" stroke="#000"/><line x1="66" y1="104.5" x2="71" y2="104.5" stroke="#000"/><line x1="615" y1="104.5" x2="610" y2="104.5" stroke="#000"/><line x1="66" y1="133.5" x2="71" y2="133.5" stroke="#000"/><line x1="615" y1="133.5" x2="610" y2="133.5" stroke="#000"/><line x1="66" y1="162.5" x2="71" y2="162.5" stroke="#000"/><line x1="615" y1="162.5" x2="610" y2="162.5" stroke="#000"/><line x1="66" y1="191.5" x2="71" y2="191.5" stroke="#000"/><line x1="615" y1="191.5" x2="610" y2="191.5" stroke="#000"/><line x1="66" y1="220.5" x2="76" y2="220.5" stroke="#000"/><line x1="615" y1="220.5" x2="605" y2="220.5" stroke="#000"/><line x1="66" y1="249.5" x2="71" y2="249.5" stroke="#000"/><line x1="615" y1="249.5" x2="610" y2="249.5" stroke="#000"/><line x1="66" y1="278.5" x2="71" y2="278.5" stroke="#000"/><line x1="615" y1="278.5" x2="610" y2="278.5" stroke="#000"/><line x1="66" y1="307.5" x2="71" y2="307.5" stroke="#000"/><line x1="615" y1="307.5" x2="610" y2="307.5" stroke="#000"/><line x1="66" y1="336.5" x2="71" y2="336.5" stroke="#000"/><line x1="615" y1="336.5" x2="610" y2="336.5" stroke="#000"/></g>
</svg>
<svg width="680" height="440" viewBox="0 0 680 440" style="position:absolute;left:0;top:0;will-change:transform;opacity:0.999">
<g font-size="14" text-anchor="middle"><text x="65" y="395.5"><tspan class="sd">0</tspan></text><text x="181" y="395.5"><tspan class="sd">2</tspan><tspan class="sd">0</tspan></text><text x="287" y="395.5">4<tspan class="sd">0</tspan></text><text x="393" y="395.5"><tspan class="sd">6</tspan><tspan class="sd">0</tspan></text><text x="499" y="395.5"><tspan class="sd">8</tspan><tspan class="sd">0</tspan></text><text x="610" y="395.5" letter-spacing="1.6">1<tspan class="sd" style="letter-spacing:1.8px">0</tspan><tspan class="sd" style="letter-spacing:1.8px">0</tspan></text><text transform="translate(55,375.5) rotate(-90)"><tspan class="sd">0</tspan></text><text transform="translate(55,220.5) rotate(-90)"><tspan class="sd">5</tspan></text><text transform="translate(55,66) rotate(-90)">1<tspan class="sd">0</tspan></text></g><g font-size="14" text-anchor="middle"><text transform="translate(333,30.5) scale(1.15,1)">R1<tspan class="sd">0</tspan><tspan class="sd">2</tspan><tspan class="sd">9</tspan></text><text font-size="13.4" transform="translate(334,420) scale(1.2,1)">Percent of Residues (CA)</text><text transform="translate(30,233) rotate(-90) scale(1.15,1)">Distance Cutoff, A</text></g>
</svg>
</body></html>
